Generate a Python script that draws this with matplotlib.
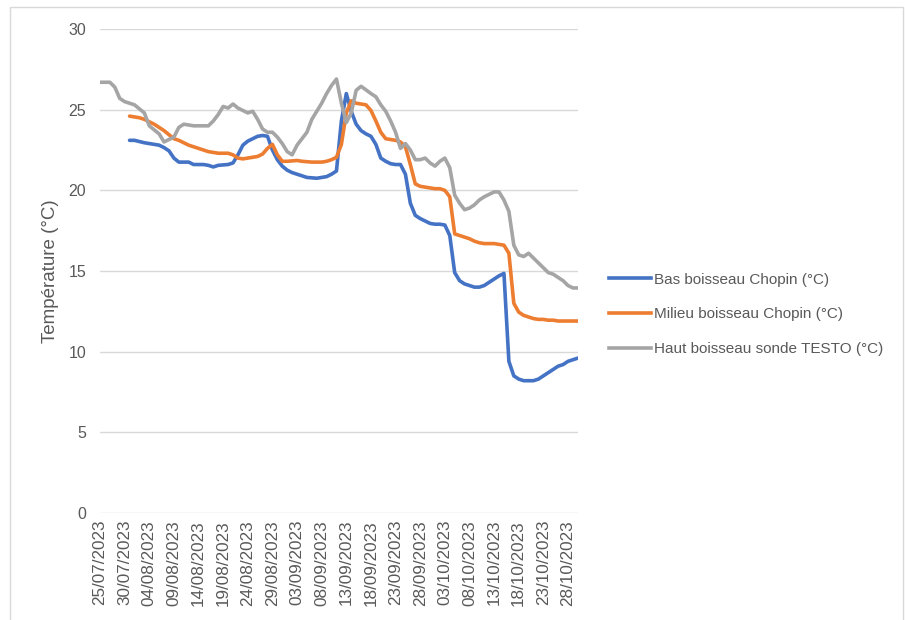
import numpy as np
import matplotlib
matplotlib.use("Agg")
import matplotlib.pyplot as plt
import matplotlib.dates as mdates
from matplotlib.lines import Line2D

plt.rcParams['font.family'] = ['Liberation Sans Narrow', 'Liberation Sans', 'DejaVu Sans']

start = np.datetime64('2023-07-25')

# days after 25/07/2023, values in °C
bas_days = [6, 7, 9, 10, 12, 13, 14, 15, 16, 18, 19, 21, 22, 23, 24, 26, 27, 28, 29, 30,
            31, 32, 33, 34, 35, 36, 37, 38, 39, 40, 41, 42, 44, 45, 46, 47, 48, 49, 50, 51,
            52, 53, 54, 55, 56, 57, 58, 59, 60, 61, 62, 63, 64, 65, 66, 67, 68, 69, 70, 71,
            72, 73, 74, 75, 76, 77, 78, 79, 80, 81, 82, 83, 84, 85, 86, 87, 88, 89, 90, 91,
            92, 93, 94, 95, 96, 97]
bas = [23.1, 23.1, 22.95, 22.9, 22.8, 22.65, 22.45, 22.0, 21.75, 21.75, 21.6, 21.6, 21.55,
       21.45, 21.55, 21.6, 21.7, 22.2, 22.8, 23.05, 23.2, 23.35, 23.4, 23.35, 22.5, 21.9,
       21.5, 21.25, 21.1, 21.0, 20.9, 20.8, 20.75, 20.8, 20.85, 21.0, 21.2, 24.3, 26.0,
       24.9, 24.1, 23.7, 23.5, 23.35, 22.85, 22.0, 21.8, 21.65, 21.6, 21.6, 21.0, 19.2,
       18.45, 18.25, 18.1, 17.95, 17.9, 17.9, 17.85, 17.2, 14.9, 14.4, 14.2, 14.1, 14.0,
       14.0, 14.1, 14.3, 14.5, 14.7, 14.85, 9.4, 8.5, 8.3, 8.2, 8.2, 8.2, 8.3, 8.5, 8.7,
       8.9, 9.1, 9.2, 9.4, 9.5, 9.6]

milieu_days = [6, 7, 8, 9, 10, 11, 12, 13, 14, 15, 16, 17, 18, 19, 20, 21, 22, 23, 24, 26,
               27, 28, 29, 30, 31, 32, 33, 34, 35, 36, 37, 38, 40, 41, 43, 45, 46, 47, 48, 49,
               50, 51, 52, 53, 54, 55, 56, 57, 58, 59, 60, 61, 62, 63, 64, 65, 66, 67, 68, 69,
               70, 71, 72, 73, 74, 75, 76, 77, 78, 79, 80, 81, 82, 83, 84, 85, 86, 87, 88, 89,
               90, 91, 92, 93, 97]
milieu = [24.6, 24.55, 24.5, 24.4, 24.25, 24.1, 23.9, 23.7, 23.45, 23.2, 23.1, 22.95, 22.8,
          22.7, 22.6, 22.5, 22.4, 22.35, 22.3, 22.3, 22.2, 22.0, 21.95, 22.0, 22.05, 22.1,
          22.25, 22.6, 22.85, 22.2, 21.8, 21.8, 21.85, 21.8, 21.75, 21.75, 21.8, 21.9, 22.05,
          22.85, 24.8, 25.55, 25.4, 25.35, 25.3, 24.95, 24.3, 23.6, 23.2, 23.15, 23.1, 23.0,
          22.7, 21.6, 20.4, 20.25, 20.2, 20.15, 20.1, 20.1, 20.0, 19.6, 17.3, 17.2, 17.1,
          17.0, 16.85, 16.75, 16.7, 16.7, 16.7, 16.65, 16.6, 16.1, 13.0, 12.45, 12.25, 12.15,
          12.05, 12.0, 12.0, 11.95, 11.95, 11.9, 11.9]

haut_days = [0, 2, 3, 4, 5, 7, 9, 10, 12, 13, 15, 16, 17, 19, 22, 23, 24, 25, 26, 27, 28,
             30, 31, 32, 33, 34, 35, 36, 37, 38, 39, 40, 42, 43, 44, 45, 46, 47, 48, 49, 50,
             51, 52, 53, 55, 56, 57, 58, 59, 60, 61, 62, 63, 64, 65, 66, 67, 68, 69, 70, 71,
             72, 73, 74, 75, 76, 77, 78, 80, 81, 82, 83, 84, 85, 86, 87, 88, 89, 90, 91, 92,
             93, 94, 95, 96, 97]
haut = [26.7, 26.7, 26.4, 25.7, 25.5, 25.3, 24.8, 24.0, 23.5, 23.0, 23.3, 23.9, 24.1, 24.0,
        24.0, 24.3, 24.7, 25.2, 25.1, 25.35, 25.1, 24.8, 24.9, 24.4, 23.8, 23.6, 23.6, 23.3,
        22.9, 22.4, 22.2, 22.8, 23.6, 24.4, 24.9, 25.4, 26.0, 26.5, 26.9, 25.4, 24.2, 24.8,
        26.2, 26.45, 26.0, 25.8, 25.3, 24.9, 24.3, 23.6, 22.6, 22.9, 22.5, 21.9, 21.9, 22.0,
        21.7, 21.5, 21.8, 22.0, 21.4, 19.7, 19.2, 18.8, 18.9, 19.1, 19.4, 19.6, 19.9, 19.9,
        19.4, 18.7, 16.6, 16.0, 15.9, 16.1, 15.8, 15.5, 15.2, 14.9, 14.8, 14.6, 14.4, 14.1,
        13.95, 13.95]

labels = ['Bas boisseau Chopin (°C)', 'Milieu boisseau Chopin (°C)',
          'Haut boisseau sonde TESTO (°C)']
colors = ['#4472C4', '#ED7D31', '#A5A5A5']


def to_dates(days):
    return start + np.array(days).astype('timedelta64[D]')


fig = plt.figure(figsize=(9.05, 6.2), dpi=100)
ax = fig.add_axes([0.1105, 0.1726, 0.528, 0.7806])

series = [(bas_days, bas), (milieu_days, milieu), (haut_days, haut)]
for (d, v), c, lab in zip(series, colors, labels):
    ax.plot(to_dates(d), v, color=c, lw=2.6, solid_joinstyle='round',
            solid_capstyle='round', label=lab)

ax.set_ylim(0, 30)
ax.set_yticks(range(0, 31, 5))
ax.set_xlim(start, start + np.timedelta64(97, 'D'))
ax.set_xticks(to_dates(range(0, 96, 5)))
ax.xaxis.set_major_formatter(mdates.DateFormatter('%d/%m/%Y'))
ax.tick_params(axis='x', rotation=90, length=0, labelsize=12.3, colors='#595959', pad=5)
ax.tick_params(axis='y', length=0, labelsize=11.5, colors='#595959', pad=10)
ax.grid(axis='y', color='#D9D9D9', lw=1)
ax.set_axisbelow(True)
for s in ax.spines.values():
    s.set_visible(False)
ax.set_ylabel('Température (°C)', fontsize=13.5, color='#595959', labelpad=7,
              family=['Liberation Sans', 'DejaVu Sans'])

handles = [Line2D([], [], color=c, lw=2.6) for c in colors]
fig.legend(handles, labels, loc='center left', bbox_to_anchor=(0.658, 0.493),
           frameon=False, fontsize=11, handlelength=2.75, handletextpad=0.15,
           labelspacing=1.35, labelcolor='#595959')

# outer chart frame
fig.add_artist(plt.Rectangle((10 / 905, -0.05), 893 / 905, 1.05 - 7 / 620,
                             transform=fig.transFigure, fill=False,
                             edgecolor='#D9D9D9', lw=1))

fig.savefig('out.png', dpi=100)
